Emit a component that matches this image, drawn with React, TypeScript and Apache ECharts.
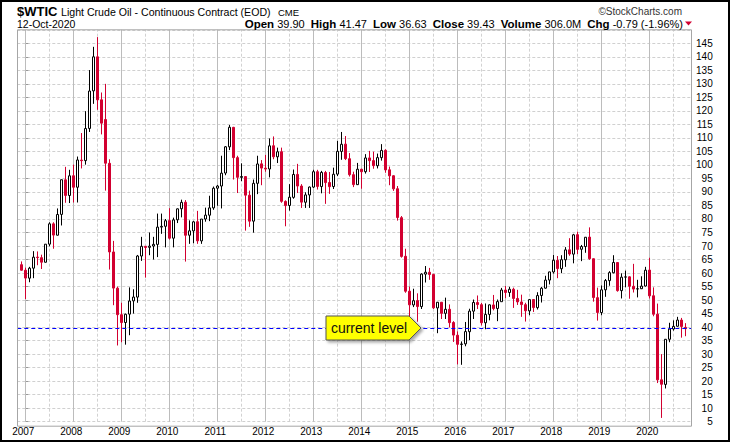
import React, { useEffect, useRef } from 'react';
import * as echarts from 'echarts';

// Monthly candles [open, high, low, close], first month = Dec 2006
const y2006 = [[63.1, 64.3, 60.9, 61.05]];
const y2007 = [
  [61.05, 62.0, 50.4, 58.14], [58.1, 62.3, 56.6, 61.79], [61.8, 68.1, 58.1, 65.87], [65.9, 68.0, 62.9, 65.71],
  [65.7, 66.8, 61.5, 64.01], [64.0, 70.7, 63.9, 70.68], [70.7, 78.8, 69.9, 78.21], [78.2, 78.8, 69.0, 74.04],
  [74.0, 83.9, 73.9, 81.66], [81.7, 94.6, 77.6, 94.53], [94.5, 99.3, 86.0, 88.71], [88.7, 98.2, 85.9, 95.98],
];
const y2008 = [
  [96.0, 100.1, 86.1, 91.75], [91.75, 103.1, 86.1, 101.84], [101.8, 111.8, 98.7, 101.58], [101.6, 119.9, 100.1, 113.46],
  [113.5, 135.1, 112.2, 127.35], [127.4, 143.7, 122.6, 140.0], [140.0, 147.3, 120.4, 124.08], [124.1, 126.8, 111.3, 115.46],
  [116.8, 130.0, 90.5, 100.64], [100.6, 102.1, 61.3, 67.81], [67.8, 71.9, 48.1, 54.43], [54.4, 55.0, 33.2, 44.6],
];
const y2009 = [
  [44.6, 49.0, 34.4, 41.68], [41.7, 45.0, 33.5, 44.76], [44.8, 54.7, 37.0, 49.66], [49.7, 54.0, 45.0, 51.12],
  [51.1, 66.7, 49.0, 66.31], [66.3, 73.4, 64.5, 69.89], [69.9, 70.0, 58.3, 69.45], [69.5, 75.0, 66.6, 69.96],
  [70.0, 73.4, 65.0, 70.61], [70.6, 82.0, 65.9, 77.0], [77.0, 82.0, 74.5, 77.28], [77.3, 80.0, 69.5, 79.36],
];
const y2010 = [
  [79.4, 84.0, 72.4, 72.89], [72.9, 80.5, 69.5, 79.66], [79.7, 83.9, 78.5, 83.76], [83.8, 87.15, 80.6, 86.15],
  [86.2, 87.0, 64.24, 73.97], [74.0, 79.5, 70.8, 75.63], [75.6, 79.3, 71.0, 78.95], [79.0, 83.0, 70.8, 71.92],
  [71.9, 80.0, 70.8, 79.97], [80.0, 84.2, 79.0, 81.43], [81.4, 88.6, 79.2, 84.11], [84.1, 92.0, 83.4, 91.38],
];
const y2011 = [
  [91.4, 92.6, 84.9, 92.19], [92.2, 103.4, 83.9, 96.97], [97.0, 107.0, 96.2, 106.72], [106.7, 114.8, 105.5, 113.93],
  [113.9, 114.1, 94.6, 102.7], [102.7, 103.4, 89.6, 95.42], [95.4, 100.6, 94.0, 95.7], [95.7, 95.8, 75.7, 88.81],
  [88.8, 90.5, 77.1, 79.2], [79.2, 94.6, 74.95, 93.19], [93.2, 103.4, 89.2, 100.36], [100.4, 101.8, 92.5, 98.83],
];
const y2012 = [
  [98.8, 103.7, 97.5, 98.48], [98.5, 109.8, 95.4, 107.07], [107.1, 110.55, 102.1, 103.02], [103.0, 106.4, 100.7, 104.87],
  [104.9, 106.4, 86.0, 86.53], [86.5, 86.9, 77.3, 84.96], [85.0, 92.9, 83.1, 88.06], [88.0, 98.3, 87.5, 96.47],
  [96.5, 100.4, 89.6, 92.19], [92.2, 92.9, 84.1, 86.24], [86.2, 89.9, 84.1, 88.91], [88.9, 92.0, 84.1, 91.82],
];
const y2013 = [
  [91.8, 98.2, 91.5, 97.49], [97.5, 98.2, 90.9, 92.05], [92.0, 97.8, 89.5, 97.23], [97.2, 97.8, 85.6, 93.46],
  [93.5, 97.4, 89.3, 91.97], [92.0, 99.0, 91.1, 96.56], [96.6, 108.9, 95.9, 105.03], [105.0, 112.2, 101.9, 107.65],
  [107.7, 110.7, 101.8, 102.33], [102.3, 104.4, 95.7, 96.38], [96.4, 97.5, 91.8, 92.72], [92.7, 100.75, 92.6, 98.42],
];
const y2014 = [
  [98.4, 98.6, 91.2, 97.49], [97.5, 104.0, 96.8, 102.59], [102.6, 105.2, 97.4, 101.58], [101.6, 104.9, 98.6, 99.74],
  [99.7, 104.2, 98.7, 102.71], [102.7, 107.7, 101.6, 105.37], [105.4, 105.8, 97.1, 98.17], [98.2, 99.4, 92.5, 95.96],
  [96.0, 96.2, 90.4, 91.16], [91.2, 92.2, 79.4, 80.54], [80.5, 81.1, 65.7, 66.15], [66.2, 69.0, 52.7, 53.27],
];
const y2015 = [
  [53.3, 55.0, 43.6, 48.24], [48.2, 54.2, 47.4, 49.76], [49.8, 52.5, 42.0, 47.6], [47.6, 59.9, 46.7, 59.63],
  [59.6, 62.6, 56.5, 60.3], [60.3, 61.9, 57.5, 59.47], [59.5, 59.7, 46.7, 47.12], [47.1, 49.3, 37.75, 49.2],
  [49.2, 49.3, 43.0, 45.09], [45.1, 50.9, 43.0, 46.59], [46.6, 48.4, 39.9, 41.65], [41.7, 42.2, 34.5, 37.04],
];
const y2016 = [
  [37.0, 38.4, 26.2, 33.62], [33.6, 34.7, 26.05, 33.75], [33.8, 41.9, 32.9, 38.34], [38.3, 46.8, 35.2, 45.92],
  [45.9, 50.2, 43.0, 49.1], [49.1, 51.7, 46.7, 48.33], [48.3, 49.0, 40.6, 41.6], [41.6, 48.75, 39.2, 44.7],
  [44.7, 48.4, 42.5, 48.24], [48.2, 51.9, 46.2, 46.86], [46.9, 50.2, 42.2, 49.44], [49.4, 54.5, 49.4, 53.72],
];
const y2017 = [
  [53.7, 55.2, 50.7, 52.81], [52.8, 54.9, 51.2, 54.01], [54.0, 54.6, 47.1, 50.6], [50.6, 53.8, 48.2, 49.33],
  [49.3, 52.0, 43.8, 48.32], [48.3, 49.0, 42.05, 46.04], [46.0, 50.4, 44.4, 50.17], [50.2, 50.3, 45.6, 47.23],
  [47.2, 52.9, 46.5, 51.67], [51.7, 54.9, 49.1, 54.38], [54.4, 59.0, 54.2, 57.4], [57.4, 60.5, 55.8, 60.42],
];
const y2018 = [
  [60.4, 66.66, 59.8, 64.73], [64.7, 66.3, 58.1, 61.64], [61.6, 66.6, 59.95, 64.94], [64.9, 69.6, 62.3, 68.57],
  [68.6, 72.9, 66.4, 67.04], [67.0, 74.5, 63.6, 74.15], [74.2, 75.3, 67.0, 68.76], [68.8, 70.4, 64.4, 69.8],
  [69.8, 73.3, 67.5, 73.25], [73.3, 76.9, 64.9, 65.31], [65.3, 65.4, 49.4, 50.93], [50.9, 54.6, 42.4, 45.41],
];
const y2019 = [
  [45.4, 55.4, 44.4, 53.79], [53.8, 57.8, 51.2, 57.22], [57.2, 60.7, 55.3, 60.14], [60.1, 66.6, 59.9, 63.91],
  [63.9, 64.0, 53.1, 53.5], [53.5, 59.9, 50.6, 58.47], [58.5, 60.9, 54.7, 58.58], [58.6, 58.8, 50.5, 55.1],
  [55.1, 63.4, 52.8, 54.07], [54.1, 57.5, 50.99, 54.18], [54.2, 58.8, 54.1, 55.17], [55.2, 62.3, 55.0, 61.06],
];
const y2020 = [
  [61.1, 65.65, 50.6, 51.56], [51.6, 54.7, 44.0, 44.76], [44.8, 48.7, 19.3, 20.48], [20.5, 30.0, 6.4, 18.84],
  [18.8, 35.6, 17.3, 35.49], [35.5, 41.6, 34.4, 39.27], [39.3, 42.5, 38.7, 40.27], [40.3, 43.8, 40.2, 42.61],
  [42.6, 43.4, 36.1, 40.22], [39.9, 41.47, 36.63, 39.43],
];
const yearBlocks = [y2006, y2007, y2008, y2009, y2010, y2011, y2012, y2013, y2014, y2015, y2016, y2017, y2018, y2019, y2020];

const yearLabels = ['2007', '2008', '2009', '2010', '2011', '2012', '2013', '2014', '2015', '2016', '2017', '2018', '2019', '2020'];
const currentLevel = 39.43;

const RED = '#d20030';
const FONT = '"Liberation Sans", Arial, sans-serif';

// x position: months since Jan 2007 (Dec 2006 = -1)
const candles: number[][] = [];
(() => {
  let m = -1;
  yearBlocks.forEach((blk) => blk.forEach(([o, h, l, c]) => { candles.push([m, o, c, l, h]); m++; }));
})();

const yearTicks = yearLabels.map((_, k) => k * 12);
const halfTicks = yearLabels.map((_, k) => k * 12 + 6);

export default function App() {
  const ref = useRef<HTMLDivElement>(null);
  useEffect(() => {
    if (!ref.current) return;
    const chart = echarts.init(ref.current, null, { renderer: 'svg' });
    const gridLines = [
      ...yearTicks.map((v) => ({ xAxis: v, lineStyle: { type: 'solid', color: '#bcbcbc', width: 1 } })),
      ...halfTicks.map((v) => ({ xAxis: v, lineStyle: { type: [3, 2], color: '#d2d2d2', width: 1 } })),
    ];
    chart.setOption({
      animation: false,
      backgroundColor: '#ffffff',
      textStyle: { fontFamily: FONT },
      grid: { left: 17.3, right: 38.3, top: 29.8, bottom: 20.3, containLabel: false },
      xAxis: {
        type: 'value',
        min: -2,
        max: 166.6,
        axisLine: { show: false },
        axisTick: { show: false },
        splitLine: { show: false },
        axisLabel: {
          customValues: yearTicks,
          formatter: (v: number) => yearLabels[Math.round(v / 12)] ?? '',
          fontSize: 10,
          color: '#000',
          margin: 5,
          padding: [0, 4, 0, 0],
          fontFamily: FONT,
        },
      },
      yAxis: {
        type: 'value',
        position: 'right',
        min: 5,
        max: 150,
        interval: 5,
        axisLine: { show: false },
        axisTick: { show: true, length: 3, lineStyle: { color: '#999' } },
        axisLabel: {
          showMaxLabel: false,
          fontSize: 10,
          color: '#000',
          align: 'right',
          margin: 21,
          fontFamily: FONT,
        },
        splitLine: { show: true, lineStyle: { type: [3, 2], color: '#d0d0d0', width: 1 } },
      },
      series: [
        {
          type: 'line',
          data: [],
          silent: true,
          markLine: {
            z: 1,
            silent: true,
            symbol: ['none', 'none'],
            label: { show: false },
            data: gridLines,
          },
        },
        {
          type: 'candlestick',
          data: candles,
          barWidth: 3,
          z: 3,
          itemStyle: {
            color: '#ffffff',
            color0: RED,
            borderColor: '#000000',
            borderColor0: RED,
            borderWidth: 1,
          },
          markLine: {
            silent: true,
            symbol: ['none', 'none'],
            label: { show: false },
            lineStyle: { color: '#0000ff', type: [4, 3], width: 1 },
            data: [{ yAxis: currentLevel }],
          },
        },
      ],
      graphic: [
        { type: 'rect', z: 50, silent: true, shape: { x: 17.5, y: 29.8, width: 674, height: 396.4 }, style: { fill: 'none', stroke: '#a6a6a6', lineWidth: 1 } },
        { type: 'rect', z: 50, silent: true, shape: { x: 1, y: 1, width: 728, height: 440 }, style: { fill: 'none', stroke: '#000', lineWidth: 2 } },
        { type: 'text', z: 50, x: 17, y: 11.5, style: { text: '$WTIC', font: `bold 13px ${FONT}`, fill: '#000', textVerticalAlign: 'middle' } },
        { type: 'text', z: 50, x: 61, y: 12, style: { text: 'Light Crude Oil - Continuous Contract (EOD)', font: `10.6px ${FONT}`, fill: '#000', textVerticalAlign: 'middle' } },
        { type: 'text', z: 50, x: 278, y: 12.5, style: { text: 'CME', font: `9.5px ${FONT}`, fill: '#000', textVerticalAlign: 'middle' } },
        { type: 'text', z: 50, x: 682, y: 11.5, style: { text: '©StockCharts.com', font: `10px ${FONT}`, fill: '#333', textAlign: 'right', textVerticalAlign: 'middle' } },
        { type: 'text', z: 50, x: 17, y: 23.5, style: { text: '12-Oct-2020', font: `10.5px ${FONT}`, fill: '#000', textVerticalAlign: 'middle' } },
        {
          type: 'text', z: 50, x: 683, y: 23.5,
          style: {
            text: '{b|Open} 39.90  {b|High} 41.47  {b|Low} 36.63  {b|Close} 39.43  {b|Volume} 306.0M  {b|Chg} -0.79 (-1.96%)',
            font: `11px ${FONT}`, fill: '#000', textAlign: 'right', textVerticalAlign: 'middle',
            rich: { b: { font: `bold 11.5px ${FONT}`, fill: '#000' } },
          },
        },
        { type: 'polygon', z: 50, shape: { points: [[685, 21.5], [692, 21.5], [688.5, 25.5]] }, style: { fill: RED } },
        {
          type: 'polygon', z: 60,
          shape: { points: [[326, 316], [409, 316], [421, 328], [409, 340], [326, 340]] },
          style: { fill: '#ffff00', stroke: '#555', lineWidth: 1, shadowBlur: 3, shadowOffsetX: 2, shadowOffsetY: 2, shadowColor: 'rgba(0,0,0,0.35)' },
        },
        { type: 'text', z: 61, x: 369, y: 328, style: { text: 'current level', font: `14px ${FONT}`, fill: '#111', textAlign: 'center', textVerticalAlign: 'middle' } },
      ],
    });
    return () => chart.dispose();
  }, []);
  return (
    <div style={{ position: 'fixed', left: 0, top: 0, width: 730, height: 442, background: '#fff' }}>
      <div ref={ref} style={{ width: 730, height: 442 }} />
    </div>
  );
}
